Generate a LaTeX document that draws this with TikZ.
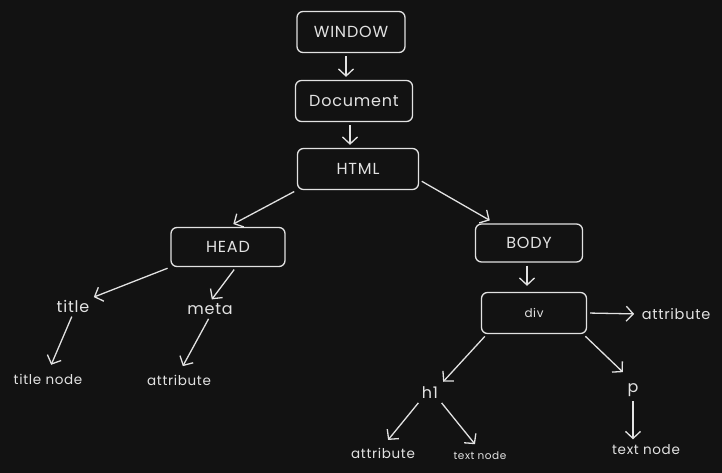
\documentclass[tikz,border=0pt]{standalone}
\usepackage{fontspec}
\setmainfont{Poppins}[LetterSpace=5]
\usepackage{tikz}
\usetikzlibrary{arrows.meta}
\definecolor{bg}{HTML}{121212}
\definecolor{ink}{HTML}{E2E2E2}

\begin{document}
\begin{tikzpicture}[x=1pt,y=-1pt,>={Straight Barb[length=7pt,width=15pt]},
        box/.style={draw=ink,line width=1.3pt,rounded corners=6pt,minimum height=41pt,text=ink,font=\fontsize{16}{18}\selectfont},
        lbl/.style={text=ink,inner sep=1pt,font=\fontsize{16}{18}\selectfont},
        sm/.style={text=ink,inner sep=1pt,font=\fontsize{13.5}{15}\selectfont},
        every path/.style={draw=ink,line width=1.3pt,shorten >=3pt,shorten <=3pt}]
        \path [fill=bg,draw=none,use as bounding box] (0,0) rectangle (722,473);
        \node [box,minimum width=108pt] (win) at (351,32) {WINDOW};
        \node [box,minimum width=117pt] (doc) at (354,101) {Document};
        \node [box,minimum width=121pt] (html) at (358,169) {HTML};
        \node [box,minimum width=114pt,minimum height=39pt] (head) at (228,247) {HEAD};
        \node [box,minimum width=107pt,minimum height=38pt] (body) at (529,243) {BODY};
        \node [box,minimum width=105pt,font=\fontsize{12}{14}\selectfont] (div) at (534,313) {div};
        \node [lbl] (title) at (73,306) {title};
        \node [lbl] (meta) at (210,309) {meta};
        \node [sm] (tnode) at (48,379) {title node};
        \node [sm] (mattr) at (179,380) {attribute};
        \node [sm,font=\fontsize{14.5}{16}\selectfont] (dattr) at (676,314) {attribute};
        \node [lbl] (h) at (430,393) {h1};
        \node [lbl] (p) at (633,390) {p};
        \node [sm] (hattr) at (383,453) {attribute};
        \node [sm,font=\fontsize{10.5}{12}\selectfont] (htext) at (480,456) {text node};
        \node [sm] (ptext) at (646,450) {text node};
        \draw [->] ([xshift=-5pt]win.south) -- ([xshift=-8pt]doc.north);
        \draw [->] ([xshift=-4pt]doc.south) -- ([xshift=-8pt]html.north);
        \draw [->,shorten >=6pt] (html.south west) -- (head.north);
        \draw [->,shorten >=6pt] (html.-10) -- (body.150);
        \draw [->] (head.south west) -- (title.north east);
        \draw [->] ([xshift=8pt]head.south) -- (meta.north);
        \draw [->,shorten >=8pt] (title.south) -- (tnode.north);
        \draw [->,shorten >=8pt] (meta.south) -- (mattr.north);
        \draw [->,shorten >=6pt] ([xshift=-2pt]body.south) -- ([xshift=-7pt]div.north);
        \draw [->,shorten >=6pt] (div.east) -- (dattr.west);
        \draw [->,shorten >=5pt] ([xshift=6pt]div.south west) -- (h.north east);
        \draw [->,shorten >=14pt] ([xshift=-4pt]div.south east) -- (p.north);
        \draw [->,shorten >=8pt] (h.south west) -- (hattr.north);
        \draw [->,shorten >=8pt] (h.south east) -- (htext.north);
        \draw [->,shorten >=4pt] (p.south) -- (ptext.north -| p.south);
\end{tikzpicture}
\end{document}
